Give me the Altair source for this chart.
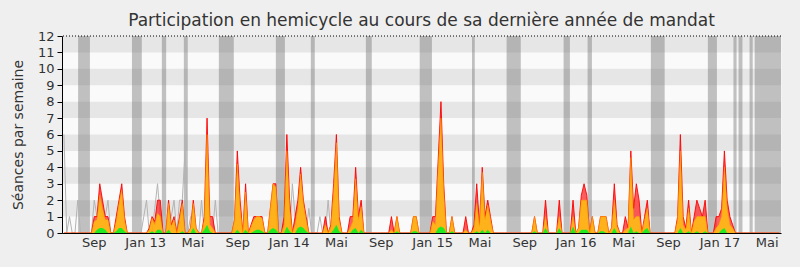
import altair as alt
import pandas as pd

TITLE = "Participation en hemicycle au cours de sa dernière année de mandat"
Y_TITLE = "Séances par semaine"
WEEK_START = "2012-06-16"
DOMAIN = [(2012, 6, 11), (2017, 6, 14)]

# weekly values (one per week, starting WEEK_START)
red = [
    0, 0, 0, 0, 0, 0, 0, 0, 0, 0,
    0, 1, 1, 3, 2, 1, 1, 0, 0, 1,
    2, 3, 1, 0, 0, 0, 0, 0, 0, 0,
    0, 0.3, 1, 0.7, 2, 2, 0, 0, 2, 0.5,
    1, 0, 1, 2, 0, 0, 0.3, 2, 0.3, 0,
    0, 1, 7, 1, 1, 0, 0, 0, 0, 0,
    0, 0, 0.8, 5, 2, 0, 3, 0, 0.5, 1,
    1, 1, 1, 0, 0, 1.5, 3, 3, 0, 0,
    1, 6, 2, 0, 1, 2, 4, 2, 1, 0,
    0, 0, 0, 0, 0, 1, 0, 0.5, 3, 6,
    1, 0, 0, 0, 1, 1, 4, 1, 2, 0,
    0, 0, 0, 0, 0, 0, 0, 0, 0, 1,
    0, 1, 0, 0, 0, 0, 0, 1, 1, 0,
    0, 0, 0, 0, 1, 1, 4.5, 8, 3, 0,
    0, 1, 0, 0, 0, 0, 1, 0, 0, 0.5,
    3, 0.5, 4, 1, 2, 1, 0, 0, 0, 0,
    0, 0, 0, 0, 0, 0, 0, 0, 0, 0,
    0, 1, 0, 0, 0, 2, 0, 0, 0, 0,
    2, 0, 0, 0, 0, 2, 0, 0.3, 2.3, 3,
    2.3, 0, 1, 0, 0, 1, 1, 1, 0, 0.3,
    3, 0.5, 0, 0, 1, 0.3, 5, 1.5, 3, 2,
    0, 1, 2, 0, 0, 0, 0, 0, 0, 0,
    0, 0, 0, 1, 6, 1, 0.3, 2, 0, 1,
    2, 1.5, 1, 2, 0, 0, 0, 1, 1, 1.5,
    5, 2, 1, 0.5, 0, 0, 0, 0, 0, 0,
    0, 0, 0, 0, 0, 0, 0, 0, 0, 0, 0,
]
yellow = [
    0, 0, 0, 0, 0, 0, 0, 0, 0, 0,
    0, 0.7, 0.8, 2.3, 1.5, 0.8, 0.8, 0, 0, 0.7,
    1.8, 2.6, 0.8, 0, 0, 0, 0, 0, 0, 0,
    0, 0.2, 0.9, 0.5, 1.2, 1, 0, 0, 1.8, 0.4,
    0.8, 0, 0.8, 1.8, 0, 0, 0.3, 1.8, 0.3, 0,
    0, 0.8, 6, 0.5, 0.3, 0, 0, 0, 0, 0,
    0, 0, 0.8, 4.2, 1.5, 0, 2.5, 0, 0.4, 0.8,
    1, 1, 0.9, 0, 0, 1.5, 3, 2.8, 0, 0,
    0.5, 5, 1.5, 0, 0.5, 1.5, 3.6, 1.8, 0.8, 0,
    0, 0, 0, 0, 0, 0.5, 0, 0.4, 2.5, 5.5,
    0.8, 0, 0, 0, 0.3, 0.7, 3.3, 0.8, 1.6, 0,
    0, 0, 0, 0, 0, 0, 0, 0, 0, 0.2,
    0, 1, 0, 0, 0, 0, 0, 1, 1, 0,
    0, 0, 0, 0, 0.7, 0.5, 4, 7, 2.5, 0,
    0, 1, 0, 0, 0, 0, 0.2, 0, 0, 0.3,
    1.8, 0.4, 3.7, 0.8, 1.7, 0.8, 0, 0, 0, 0,
    0, 0, 0, 0, 0, 0, 0, 0, 0, 0,
    0, 1, 0, 0, 0, 1, 0, 0, 0, 0,
    1, 0, 0, 0, 0, 1, 0, 0.3, 2, 2,
    2, 0, 1, 0, 0, 1, 1, 1, 0, 0.3,
    2, 0.4, 0, 0, 0.2, 0.3, 4.6, 0.8, 1, 1,
    0, 0.8, 1.5, 0, 0, 0, 0, 0, 0, 0,
    0, 0, 0, 0.8, 5, 0.5, 0.2, 1.5, 0, 0.7,
    1, 1, 1, 1, 0, 0, 0, 0.3, 0.5, 1,
    4, 1.5, 0.5, 0.3, 0, 0, 0, 0, 0, 0,
    0, 0, 0, 0, 0, 0, 0, 0, 0, 0, 0,
]
green = [
    0, 0, 0, 0, 0, 0, 0, 0, 0, 0,
    0, 0, 0.2, 0.3, 0.3, 0.2, 0, 0, 0, 0.1,
    0.3, 0.3, 0.1, 0, 0, 0, 0, 0, 0, 0,
    0, 0, 0.1, 0, 0.2, 0.2, 0, 0, 0.2, 0,
    0, 0, 0, 0.1, 0, 0, 0, 0.3, 0, 0,
    0, 0.2, 0.5, 0.1, 0, 0, 0, 0, 0, 0,
    0, 0, 0, 0.2, 0, 0, 0.2, 0, 0, 0.1,
    0.2, 0.2, 0.1, 0, 0, 0.2, 0.3, 0.2, 0, 0,
    0, 0.4, 0.1, 0, 0, 0.3, 0.4, 0.3, 0.1, 0,
    0, 0, 0, 0, 0, 0, 0, 0, 0.2, 0.5,
    0.1, 0, 0, 0, 0, 0.2, 0.3, 0, 0.2, 0,
    0, 0, 0, 0, 0, 0, 0, 0, 0, 0,
    0, 0.1, 0, 0, 0, 0, 0, 0.1, 0.1, 0,
    0, 0, 0, 0, 0, 0, 0.3, 0.4, 0.3, 0,
    0, 0.1, 0, 0, 0, 0, 0, 0, 0, 0,
    0.1, 0, 0.2, 0, 0.2, 0, 0, 0, 0, 0,
    0, 0, 0, 0, 0, 0, 0, 0, 0, 0,
    0, 0.1, 0, 0, 0, 0.3, 0, 0, 0, 0,
    0.3, 0, 0, 0, 0, 0.4, 0, 0, 0.2, 0.2,
    0.2, 0, 0, 0, 0, 0.1, 0.1, 0, 0, 0,
    0.3, 0, 0, 0, 0, 0, 0.4, 0, 0.1, 0,
    0, 0.2, 0.3, 0, 0, 0, 0, 0, 0, 0,
    0, 0, 0, 0, 0.3, 0, 0, 0.1, 0, 0,
    0.1, 0, 0, 0.1, 0, 0, 0, 0, 0, 0.2,
    0.3, 0, 0, 0, 0, 0, 0, 0, 0, 0,
    0, 0, 0, 0, 0, 0, 0, 0, 0, 0, 0,
]
grey = [
    6, 0, 1, 0, 0, 2, 0, 0, 0, 0,
    0, 2, 1, 2, 1, 1, 2, 0, 0, 0,
    0, 0, 0, 0, 0, 0, 0, 0, 0, 1,
    2, 0, 0, 1.5, 3, 1, 0, 0, 0, 1,
    2, 0, 2, 2, 5, 0, 1, 0, 0, 0,
    2, 0, 0, 0, 0, 2, 0, 0, 0, 0,
    0, 0, 0, 0, 0, 0, 0, 0, 0, 0,
    0, 0, 0, 0, 0, 0, 0, 0, 0, 0,
    0, 0, 0, 3, 1, 0, 0, 0, 0, 1.5,
    0, 0, 0, 1, 0, 0, 2, 0, 0, 0,
] + [0] * 161

# parliamentary breaks (grey vertical bands)
break_start = ["2012-07-22", "2012-12-06", "2013-02-20", "2013-04-17", "2013-07-15",
               "2013-12-07", "2014-03-06", "2014-07-24", "2014-12-08", "2015-04-20",
               "2015-07-17", "2015-12-09", "2016-02-08", "2016-07-18", "2016-12-10",
               "2017-02-13", "2017-02-26", "2017-03-26", "2017-04-08"]
break_end = ["2012-08-21", "2012-12-31", "2013-03-03", "2013-04-27", "2013-08-22",
             "2013-12-30", "2014-03-16", "2014-08-08", "2015-01-08", "2015-04-27",
             "2015-08-22", "2015-12-25", "2016-02-19", "2016-08-22", "2017-01-02",
             "2017-02-21", "2017-03-08", "2017-04-03", "2017-06-14"]

# alternating horizontal stripes
stripe_lo = [1, 3, 5, 7, 9, 11]
stripe_hi = [2, 4, 6, 8, 10, 12]
top_line = [12]
y_ticks = list(range(13))

# x tick labels (year, month)
tick_months = [(2012, 9), (2013, 1), (2013, 5), (2013, 9), (2014, 1), (2014, 5),
               (2014, 9), (2015, 1), (2015, 5), (2015, 9), (2016, 1), (2016, 5),
               (2016, 9), (2017, 1), (2017, 5)]

FONT = "DejaVu Sans"
TXT = "#333333"

weeks = pd.date_range(WEEK_START, periods=len(red), freq="7D")
df = pd.DataFrame({
    "date": weeks.strftime("%Y-%m-%d"),
    "red": red, "yellow": yellow, "green": green, "grey": grey,
})
breaks = pd.DataFrame({"start": break_start, "end": break_end})
stripes = pd.DataFrame({"lo": stripe_lo, "hi": stripe_hi})
top_df = pd.DataFrame({"top": top_line})

xscale = alt.Scale(
    type="utc",
    domain=[alt.DateTime(year=y, month=m, date=d, utc=True) for (y, m, d) in DOMAIN],
)
xaxis = alt.Axis(
    values=[alt.DateTime(year=y, month=m, date=1, utc=True) for (y, m) in tick_months],
    labelExpr="utcmonth(datum.value) == 0 ? 'Jan ' + utcFormat(datum.value, '%y') : "
              "(utcmonth(datum.value) == 4 ? 'Mai' : 'Sep')",
    title=None, ticks=False, grid=False, domainColor="black", domainWidth=1,
    labelFont=FONT, labelFontSize=13, labelColor=TXT, labelPadding=3,
    labelFlush=False, labelOverlap=False, zindex=1,
    labelOffset={"condition": {"test": "utcmonth(datum.value) != 8", "value": 3}, "value": -0.5},
)
yscale = alt.Scale(domain=[0, 12], nice=False, zero=True)
yaxis = alt.Axis(
    values=y_ticks, tickCount=13, title=Y_TITLE, grid=False,
    titleFont=FONT, titleFontSize=14, titleColor=TXT, titleFontWeight="normal",
    titleX=-44, titleY=98.5, titleAngle=270, titleAlign="center", titleBaseline="middle",
    labelFont=FONT, labelFontSize=13, labelColor=TXT, labelPadding=3, labelOverlap=False,
    labelBound=False, labelFlush=False,
    tickSize=5, tickColor="black", domainColor="black", zindex=1,
)

X = alt.X("date:T", scale=xscale, axis=xaxis)


def Y(field):
    return alt.Y(field, type="quantitative", scale=yscale, axis=yaxis)


stripe_layer = alt.Chart(stripes).mark_rect(color="#e6e6e6").encode(
    y=Y("lo"), y2="hi:Q"
)
break_layer = alt.Chart(breaks).mark_rect(color="#707070", opacity=0.42).encode(
    x=alt.X("start:T", scale=xscale, axis=xaxis), x2="end:T"
)
base = alt.Chart(df)
grey_layer = base.mark_line(color="#b4b4b4", strokeWidth=1).encode(x=X, y=Y("grey"))
red_layer = base.mark_area(
    color="#ff1a1a", line={"color": "#ff0000", "strokeWidth": 0.9}
).encode(x=X, y=Y("red"))
yellow_layer = base.mark_area(
    color="#ffd700", line={"color": "#ffa200", "strokeWidth": 0.5}
).encode(x=X, y=Y("yellow"))
green_layer = base.mark_area(color="#22ea22").encode(x=X, y=Y("green"))
top_rule = alt.Chart(top_df).mark_rule(
    color="black", strokeDash=[1, 2], strokeWidth=1
).encode(y=Y("top"))

chart = alt.layer(
    stripe_layer, break_layer, grey_layer, red_layer, yellow_layer, green_layer, top_rule
).properties(
    width=719, height=197,
    autosize=alt.AutoSizeParams(type="none"),
    padding={"left": 62, "top": 36, "right": 19, "bottom": 34},
    background="#efefef",
    title=alt.Title(TITLE, font=FONT, fontSize=17, color=TXT, fontWeight="normal",
                    anchor="middle", offset=4, dy=17, baseline="alphabetic"),
).configure_view(fill="#fafafa", strokeOpacity=0)

chart.save("out.html", embed_options={"renderer": "svg", "actions": False})
